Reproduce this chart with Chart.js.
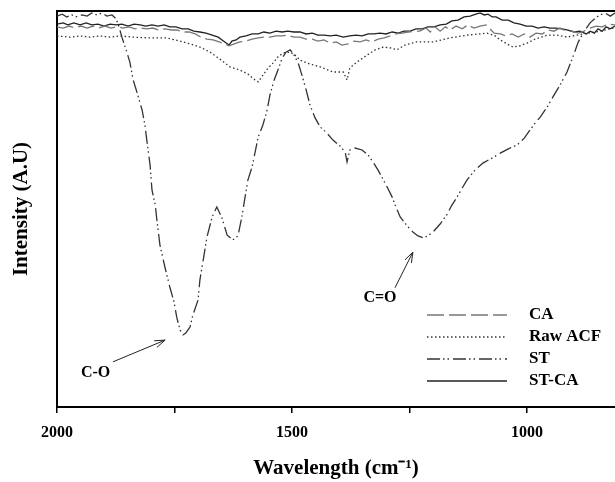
<!DOCTYPE html>
<html><head><meta charset="utf-8">
<script src="https://cdn.jsdelivr.net/npm/chart.js@4/dist/chart.umd.min.js"></script>
<style>html,body{margin:0;padding:0;background:#fff}canvas{display:block}</style>
</head><body>
<canvas id="c" width="615" height="482"></canvas>
<script>
const seriesNames = ['CA', 'Raw ACF', 'ST', 'ST-CA'];
const waveTicks = [2000, 1750, 1500, 1250, 1000];
const labeledTicks = [2000, 1500, 1000];

const caData = [[2000,96.0],[1987,95.7],[1974,96.2],[1962,95.7],[1949,96.2],[1936,95.7],[1923,96.2],[1911,95.7],[1898,96.2],[1885,95.7],[1872,96.0],[1860,95.7],[1847,96.0],[1834,95.5],[1821,95.7],[1809,95.5],[1796,95.7],[1783,95.2],[1770,95.5],[1757,95.2],[1745,95.2],[1732,94.7],[1719,94.7],[1706,94.2],[1694,93.4],[1681,92.9],[1668,92.7],[1655,92.2],[1643,91.7],[1634,91.2],[1623,91.7],[1611,92.2],[1598,92.4],[1585,92.9],[1572,93.2],[1560,93.4],[1547,93.4],[1534,93.7],[1521,93.7],[1509,93.9],[1496,93.4],[1483,93.4],[1470,92.9],[1457,92.9],[1445,92.4],[1432,92.7],[1419,91.9],[1406,92.2],[1394,91.4],[1381,91.7],[1368,92.4],[1355,92.2],[1343,92.7],[1330,92.2],[1317,92.9],[1304,93.2],[1291,93.7],[1279,94.2],[1266,94.4],[1253,94.7],[1240,94.9],[1228,94.9],[1215,95.7],[1206,94.7],[1196,96.0],[1185,94.9],[1174,96.0],[1164,95.2],[1151,96.2],[1138,95.5],[1126,96.5],[1113,95.7],[1100,96.2],[1087,96.5],[1079,95.5],[1070,94.4],[1057,94.2],[1045,93.7],[1032,94.2],[1019,93.4],[1006,94.2],[994,93.4],[981,94.4],[968,94.2],[955,95.2],[943,94.9],[930,95.7],[917,94.9],[904,94.9],[891,94.4],[879,94.9],[866,95.7],[853,96.2],[840,96.0],[828,96.7],[813,96.5]];

const rawData = [[2000,93.7],[1972,93.4],[1951,93.7],[1930,93.4],[1909,93.7],[1887,93.4],[1866,93.7],[1838,93.4],[1802,93.2],[1766,93.2],[1749,92.7],[1723,91.9],[1696,90.9],[1674,89.6],[1660,88.4],[1643,86.9],[1632,85.9],[1611,85.1],[1594,84.1],[1579,82.6],[1572,82.1],[1562,83.8],[1551,85.6],[1540,86.9],[1530,88.4],[1519,89.4],[1504,89.6],[1494,88.9],[1483,87.6],[1462,86.6],[1440,85.9],[1413,84.6],[1391,84.6],[1383,82.6],[1377,85.6],[1362,87.1],[1340,88.9],[1323,90.2],[1306,90.9],[1291,90.7],[1277,90.2],[1260,91.4],[1234,92.2],[1200,92.2],[1164,93.2],[1128,93.9],[1085,94.4],[1068,93.7],[1057,92.7],[1043,91.7],[1030,90.9],[1015,91.2],[1000,91.9],[983,92.9],[957,93.9],[936,93.9],[915,93.4],[894,93.9],[872,94.4],[845,94.9],[817,95.7],[813,95.7]];

const stData = [[2000,98.7],[1989,99.2],[1979,98.5],[1968,99.0],[1957,98.5],[1947,99.0],[1936,98.7],[1926,99.5],[1915,99.0],[1904,99.5],[1894,98.7],[1883,99.0],[1874,98.0],[1868,96.0],[1862,93.4],[1853,90.2],[1845,87.1],[1838,82.6],[1830,79.5],[1819,75.0],[1813,71.2],[1809,67.4],[1802,61.1],[1798,54.8],[1791,51.0],[1787,46.7],[1781,40.9],[1770,35.1],[1760,30.3],[1751,26.5],[1745,22.5],[1738,19.4],[1732,18.2],[1726,18.7],[1717,20.2],[1711,23.2],[1700,27.0],[1696,32.1],[1689,37.1],[1681,42.9],[1670,48.0],[1660,50.5],[1649,47.7],[1638,43.4],[1626,42.2],[1615,43.2],[1606,48.5],[1600,53.0],[1594,57.3],[1585,60.6],[1579,64.1],[1572,68.2],[1562,71.2],[1553,75.0],[1547,78.8],[1538,82.6],[1530,85.1],[1521,88.1],[1513,89.6],[1504,90.2],[1496,88.9],[1487,86.9],[1479,83.8],[1470,80.1],[1462,76.3],[1451,73.0],[1440,70.7],[1426,69.2],[1413,67.4],[1398,65.9],[1387,64.4],[1383,61.9],[1377,64.9],[1366,65.4],[1351,64.9],[1338,63.6],[1328,61.9],[1317,59.8],[1309,58.1],[1298,55.6],[1287,53.0],[1279,50.5],[1270,48.0],[1257,46.0],[1243,44.2],[1232,43.2],[1221,42.7],[1211,43.2],[1200,44.2],[1185,46.2],[1170,48.7],[1160,51.0],[1149,53.0],[1138,55.3],[1128,57.3],[1111,59.8],[1094,61.6],[1074,62.9],[1057,64.1],[1040,65.2],[1021,66.2],[1006,67.9],[994,69.9],[983,71.7],[972,73.2],[957,75.8],[945,78.3],[930,81.3],[915,84.6],[902,88.6],[891,92.2],[881,94.4],[866,97.0],[855,98.2],[845,99.0],[834,99.5],[823,98.7],[813,99.5]];

const stcaData = [[2000,96.7],[1987,97.0],[1977,96.5],[1964,97.0],[1951,96.5],[1938,97.0],[1926,96.5],[1913,96.7],[1900,96.2],[1887,96.7],[1874,96.5],[1862,96.7],[1849,96.2],[1836,96.7],[1823,96.5],[1811,96.2],[1798,96.5],[1785,96.2],[1772,96.5],[1760,96.0],[1747,96.0],[1734,95.5],[1721,95.5],[1709,94.9],[1696,94.7],[1683,94.4],[1670,93.9],[1657,93.4],[1649,92.7],[1640,91.9],[1634,91.4],[1628,92.4],[1619,92.7],[1611,93.4],[1598,93.7],[1585,94.2],[1572,94.2],[1560,94.7],[1547,94.4],[1534,94.9],[1521,94.7],[1509,94.9],[1496,94.7],[1483,94.7],[1470,94.2],[1457,94.4],[1445,93.9],[1432,93.9],[1419,93.7],[1406,93.9],[1391,93.4],[1377,93.7],[1364,93.9],[1351,93.7],[1338,94.2],[1326,94.2],[1313,94.4],[1300,94.2],[1287,94.7],[1274,94.4],[1262,94.9],[1249,94.9],[1236,95.5],[1223,95.5],[1211,96.0],[1198,96.0],[1185,96.5],[1172,96.7],[1160,97.5],[1147,97.7],[1134,98.5],[1121,98.7],[1109,99.2],[1100,99.5],[1091,99.0],[1083,99.2],[1074,98.5],[1066,98.5],[1053,97.7],[1040,97.7],[1028,97.0],[1015,96.7],[1002,96.2],[989,96.2],[977,95.7],[964,96.0],[951,95.7],[938,95.7],[926,95.5],[913,95.2],[900,94.7],[887,94.9],[874,94.2],[866,94.9],[857,94.4],[849,95.5],[840,94.9],[832,96.0],[823,95.5],[813,96.2]];

const annotationLabels = ['C-O', 'C=O'];
const annotationSpots = [
  {text: [1918, 8.6], from: [1881, 11.4], to: [1770, 16.9]},
  {text: [1313, 27.5], from: [1281, 30.1], to: [1243, 39.1]}
];

const SERIF = '"Liberation Serif", "Times New Roman", serif';
const toXY = arr => arr.map(p => ({x: p[0], y: p[1]}));

const styles = [
  {color: '#777', dash: [17, 5], width: 1.3},
  {color: '#333', dash: [1.5, 2.5], width: 1.3},
  {color: '#333', dash: [13, 3, 1.5, 3, 1.5, 4], width: 1.3},
  {color: '#222', dash: [], width: 1.3}
];
const seriesData = [caData, rawData, stData, stcaData];

const datasets = seriesNames.map((name, i) => ({
  label: name,
  data: toXY(seriesData[i]),
  borderColor: styles[i].color,
  borderDash: styles[i].dash,
  borderWidth: styles[i].width,
  pointRadius: 0,
  tension: 0,
  fill: false
}));

const overlayPlugin = {
  id: 'overlay',
  afterDraw(chart) {
    const {ctx, chartArea: a, scales: {x, y}} = chart;
    ctx.save();
    ctx.strokeStyle = '#000';
    ctx.lineWidth = 2;
    ctx.beginPath();
    ctx.moveTo(a.left - 1, a.top);
    ctx.lineTo(a.right, a.top);
    ctx.stroke();
    ctx.fillStyle = '#000';
    ctx.font = 'bold 16px ' + SERIF;
    ctx.textAlign = 'center';
    ctx.textBaseline = 'middle';
    annotationSpots.forEach((s, i) => {
      ctx.fillText(annotationLabels[i], x.getPixelForValue(s.text[0]), y.getPixelForValue(s.text[1]));
      const x1 = x.getPixelForValue(s.from[0]), y1 = y.getPixelForValue(s.from[1]);
      const x2 = x.getPixelForValue(s.to[0]), y2 = y.getPixelForValue(s.to[1]);
      ctx.strokeStyle = '#222';
      ctx.lineWidth = 1;
      ctx.beginPath(); ctx.moveTo(x1, y1); ctx.lineTo(x2, y2); ctx.stroke();
      const ang = Math.atan2(y2 - y1, x2 - x1), L = 11, sp = 0.33;
      ctx.beginPath();
      ctx.moveTo(x2 - L * Math.cos(ang - sp), y2 - L * Math.sin(ang - sp));
      ctx.lineTo(x2, y2);
      ctx.lineTo(x2 - L * Math.cos(ang + sp), y2 - L * Math.sin(ang + sp));
      ctx.stroke();
    });
    chart.data.datasets.forEach((ds, i) => {
      const yy = a.top + 304 + i * 22;
      ctx.setLineDash(ds.borderDash || []);
      ctx.strokeStyle = ds.borderColor;
      ctx.lineWidth = 1.3;
      ctx.beginPath();
      ctx.moveTo(a.left + 370, yy);
      ctx.lineTo(a.left + 450, yy);
      ctx.stroke();
      ctx.setLineDash([]);
      ctx.fillStyle = '#000';
      ctx.textAlign = 'left';
      ctx.font = 'bold 17px ' + SERIF;
      ctx.fillText(ds.label, a.left + 472, yy);
    });
    ctx.restore();
  }
};

new Chart(document.getElementById('c'), {
  type: 'line',
  data: {datasets},
  options: {
    responsive: false,
    animation: false,
    devicePixelRatio: 1,
    layout: {padding: {top: 11, right: 0, left: 0, bottom: 0}},
    plugins: {legend: {display: false}, tooltip: {enabled: false}},
    scales: {
      x: {
        type: 'linear',
        reverse: true,
        min: 813,
        max: 2000,
        afterBuildTicks: s => { s.ticks = waveTicks.map(v => ({value: v})); },
        afterFit: s => { s.height = 75; },
        ticks: {
          autoSkip: false,
          maxRotation: 0,
          padding: 10,
          color: '#000',
          font: {family: SERIF, size: 16, weight: 'bold'},
          callback: v => labeledTicks.includes(v) ? String(v) : ''
        },
        grid: {display: true, drawOnChartArea: false, drawTicks: true, tickLength: 6, color: '#000', lineWidth: 1.5},
        border: {display: true, color: '#000', width: 2},
        title: {
          display: true,
          text: 'Wavelength (cm\u207B\u00B9)',
          color: '#000',
          font: {family: SERIF, size: 21, weight: 'bold'},
          padding: {top: 0, bottom: 1}
        }
      },
      y: {
        min: 0,
        max: 100,
        afterFit: s => { s.width = 57; },
        ticks: {display: false},
        grid: {display: false},
        border: {display: true, color: '#000', width: 2},
        title: {
          display: true,
          text: 'Intensity (A.U)',
          color: '#000',
          font: {family: SERIF, size: 21, weight: 'bold'},
          padding: {top: 9, bottom: 0}
        }
      }
    }
  },
  plugins: [overlayPlugin]
});
</script>
</body></html>
